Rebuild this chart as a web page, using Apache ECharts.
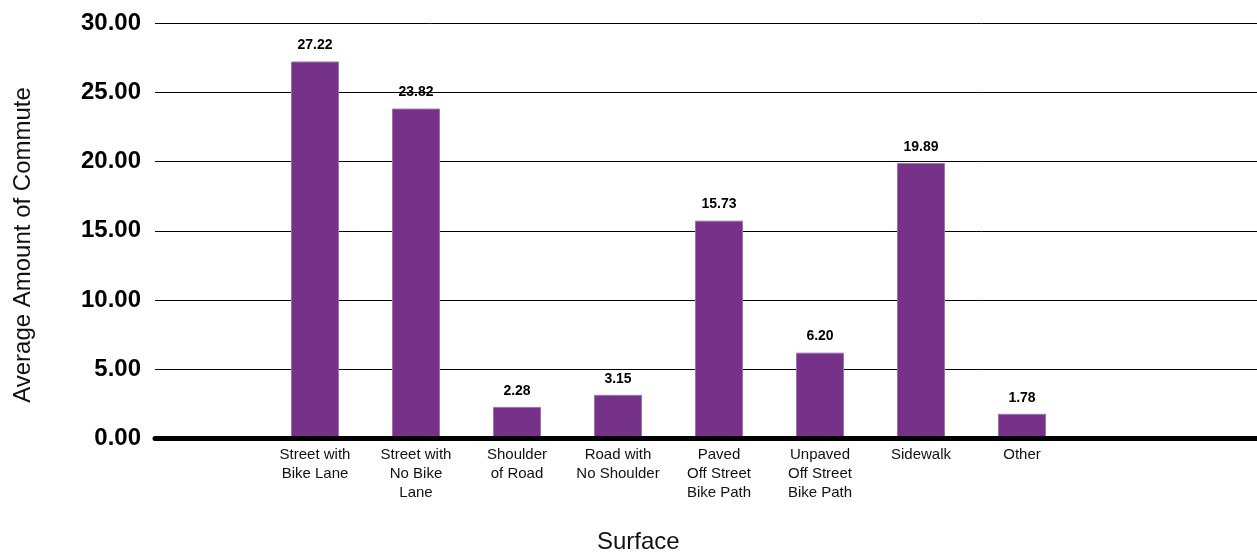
<!DOCTYPE html>
<html>
<head>
<meta charset="utf-8">
<title>Average Amount of Commute by Surface</title>
<script src="https://cdn.jsdelivr.net/npm/echarts@6/dist/echarts.min.js"></script>
<style>
  html, body { margin: 0; padding: 0; background: #ffffff; }
  #chart { width: 1257px; height: 555px; }
</style>
</head>
<body>
<div id="chart"></div>
<script>
// Riding surfaces and the average amount of commute on each
const categories = [
  'Street with\nBike Lane',
  'Street with\nNo Bike\nLane',
  'Shoulder\nof Road',
  'Road with\nNo Shoulder',
  'Paved\nOff Street\nBike Path',
  'Unpaved\nOff Street\nBike Path',
  'Sidewalk',
  'Other'
];
const values = [27.22, 23.82, 2.28, 3.15, 15.73, 6.20, 19.89, 1.78];

// Value axis range
const yMin = 0;
const yMax = 30;
const yStep = 5;

const FONT = '"Liberation Sans", Arial, sans-serif';
const BAR_COLOR = '#763289';

const chart = echarts.init(document.getElementById('chart'), null, { renderer: 'canvas' });

const plotTop = 23;
const plotHeight = 415.5;

chart.setOption({
  animation: false,
  backgroundColor: '#ffffff',
  grid: [
    // full-width frame carrying the value scale, gridlines and baseline
    { left: 155, right: 0, top: plotTop, height: plotHeight },
    // band where the bars sit
    { left: 264.5, width: 808, top: plotTop, height: plotHeight }
  ],
  xAxis: [
    {
      gridIndex: 0,
      type: 'category',
      data: [''],
      z: 5,
      axisLine: { show: true, lineStyle: { color: '#000000', width: 5 } },
      axisTick: { show: false },
      axisLabel: { show: false },
      splitLine: { show: false }
    },
    {
      gridIndex: 1,
      type: 'category',
      data: categories,
      axisLine: { show: false },
      axisTick: { show: false },
      axisLabel: {
        interval: 0,
        margin: 7,
        color: '#111111',
        fontFamily: FONT,
        fontSize: 15,
        lineHeight: 19
      },
      splitLine: { show: false }
    }
  ],
  yAxis: [
    {
      gridIndex: 0,
      type: 'value',
      min: yMin,
      max: yMax,
      interval: yStep,
      axisLine: { show: false },
      axisTick: { show: false },
      axisLabel: {
        margin: 14,
        color: '#000000',
        fontFamily: FONT,
        fontSize: 24,
        fontWeight: 'bold',
        formatter: v => v.toFixed(2)
      },
      splitLine: { show: true, lineStyle: { color: '#000000', width: 1 } }
    },
    {
      gridIndex: 1,
      type: 'value',
      min: yMin,
      max: yMax,
      interval: yStep,
      show: false,
      splitLine: { show: false }
    }
  ],
  graphic: [
    {
      type: 'text',
      x: 23,
      y: 245,
      rotation: Math.PI / 2,
      style: {
        text: 'Average Amount of Commute',
        fill: '#111111',
        font: '24px ' + FONT,
        align: 'center',
        verticalAlign: 'middle'
      }
    },
    {
      type: 'text',
      left: 597,
      top: 530,
      style: {
        text: 'Surface',
        fill: '#111111',
        font: '24px ' + FONT
      }
    }
  ],
  series: [
    {
      type: 'bar',
      xAxisIndex: 1,
      yAxisIndex: 1,
      data: values,
      barWidth: 48,
      itemStyle: { color: BAR_COLOR, borderColor: '#9c72ad', borderWidth: 1 },
      label: {
        show: true,
        position: 'top',
        distance: 9,
        color: '#000000',
        fontFamily: FONT,
        fontSize: 14,
        fontWeight: 'bold',
        formatter: p => p.value.toFixed(2)
      }
    }
  ]
});
</script>
</body>
</html>
